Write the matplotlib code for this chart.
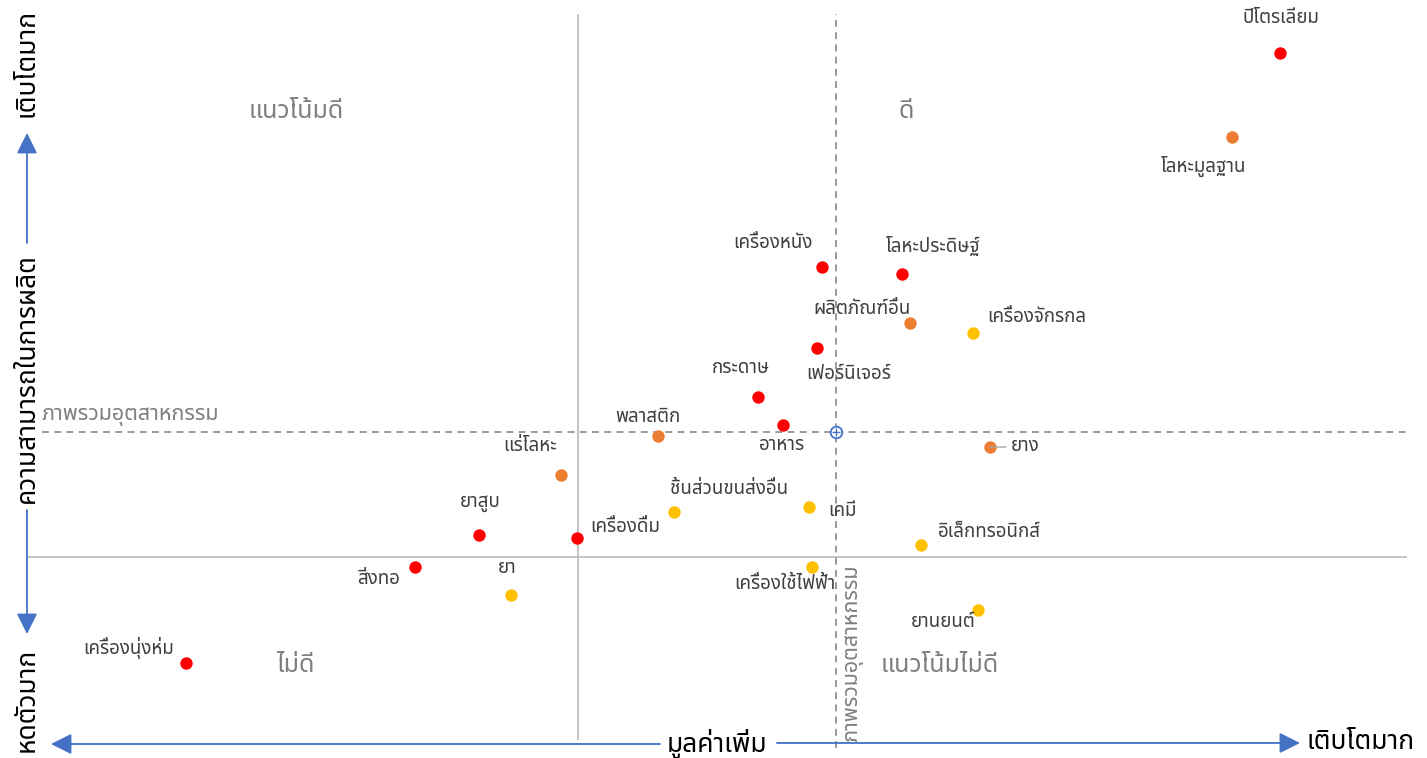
import matplotlib
matplotlib.use("Agg")
import matplotlib.pyplot as plt
from matplotlib import font_manager
from matplotlib.ft2font import FT2Font

# --- pick an installed font that covers Thai script -------------------------
def thai_font():
    preferred = ["Tahoma", "Leelawadee UI", "Noto Sans Thai", "Noto Sans Thai UI",
                 "Loma", "Garuda", "Sarabun", "Kinnari", "Norasi"]
    found = {}
    for f in font_manager.fontManager.ttflist:
        try:
            cmap = FT2Font(f.fname).get_charmap()
        except Exception:
            continue
        if 0x0E01 in cmap and 0x0E40 in cmap:
            found.setdefault(f.name, f.fname)
    for name in preferred:
        if name in found:
            return name
    return sorted(found)[0] if found else "DejaVu Sans"

THAI = thai_font()
plt.rcParams["font.family"] = [THAI, "DejaVu Sans"]

# --- data: growth of value added (x) vs. production capacity (y), % ---------
red_names = ["ปิโตรเลียม", "เครื่องหนัง", "โลหะประดิษฐ์", "เฟอร์นิเจอร์", "กระดาษ",
             "อาหาร", "เครื่องดื่ม", "ยาสูบ", "สิ่งทอ", "เครื่องนุ่งห่ม"]
red_x = [17.55, 6.10, 8.10, 5.98, 4.50, 5.12, -0.02, -2.48, -4.08, -9.80]
red_y = [12.60, 7.25, 7.08, 5.22, 4.00, 3.30, 0.48, 0.55, -0.25, -2.65]

orange_names = ["โลหะมูลฐาน", "ผลิตภัณฑ์อื่น", "พลาสติก", "แร่โลหะ", "ยาง"]
orange_x = [16.35, 8.30, 2.00, -0.42, 10.30]
orange_y = [10.50, 5.85, 3.02, 2.05, 2.75]

yellow_names = ["เครื่องจักรกล", "ชิ้นส่วนขนส่งอื่น", "เคมี", "อิเล็กทรอนิกส์",
                "เครื่องใช้ไฟฟ้า", "ยา", "ยานยนต์"]
yellow_x = [9.88, 2.40, 5.78, 8.58, 5.85, -1.68, 10.00]
yellow_y = [5.60, 1.12, 1.25, 0.30, -0.25, -0.95, -1.32]

overall_label = "ภาพรวมอุตสาหกรรม"
overall_x = 6.45
overall_y = 3.12

quadrant_labels = ["แนวโน้มดี", "ดี", "ไม่ดี", "แนวโน้มไม่ดี"]
x_title = "มูลค่าเพิ่ม"
y_title = "ความสามารถในการผลิต"
high_text = "เติบโตมาก"
low_text = "หดตัวมาก"

# label placement (pixel offsets of label centre from its point)
label_offsets = {
    "ปิโตรเลียม": (1, 35), "โลหะมูลฐาน": (-28, -29), "เครื่องหนัง": (-49, 24),
    "โลหะประดิษฐ์": (31, 28), "ผลิตภัณฑ์อื่น": (-48, 14), "เครื่องจักรกล": (64, 16),
    "เฟอร์นิเจอร์": (31, -26), "กระดาษ": (-17, 29), "อาหาร": (-1, -20),
    "พลาสติก": (-10, 19), "ยาง": (35, 1), "แร่โลหะ": (-31, 29), "ยาสูบ": (1, 32),
    "ชิ้นส่วนขนส่งอื่น": (55, 23), "เคมี": (33, -4), "เครื่องดื่ม": (48, 11),
    "อิเล็กทรอนิกส์": (68, 13), "สิ่งทอ": (-36, -12), "ยา": (-4, 27),
    "เครื่องใช้ไฟฟ้า": (-27, -17), "ยานยนต์": (-35, -12), "เครื่องนุ่งห่ม": (-57, 15),
}

RED, ORANGE, YELLOW = "#FF0000", "#ED7D31", "#FFC000"
BLUE = "#4472C4"
LABEL_C = "#404040"
GRAY_T = "#7F7F7F"

LABEL_FS = 13.5
QUAD_FS = 18
AXIS_FS = 19
AVG_FS = 15.5

W, H = 1427, 758
fig = plt.figure(figsize=(W / 100, H / 100), dpi=100)
ax = fig.add_axes([28 / W, 18 / H, (1407 - 28) / W, (740 - 14) / H])
ax.set_xlim(-13.75, 20.725)
ax.set_ylim(-4.575, 13.575)
ax.axis("off")

# zero lines and industry-average lines
ax.axhline(0, color="#BFBFBF", lw=1.3, zorder=1)
ax.axvline(0, color="#BFBFBF", lw=1.3, zorder=1)
ax.axhline(overall_y, xmin=(42 - 28) / (1407 - 28), color="#7F7F7F", lw=1.1,
           ls=(0, (4.5, 3.5)), zorder=1)
ax.plot([overall_x, overall_x], [-4.575 - 0.2, 13.575], color="#7F7F7F", lw=1.1,
        ls=(0, (4.5, 3.5)), zorder=1, clip_on=False)

ax.scatter(red_x, red_y, s=80, color=RED, zorder=3, linewidths=0)
ax.scatter(orange_x, orange_y, s=80, color=ORANGE, zorder=3, linewidths=0)
ax.scatter(yellow_x, yellow_y, s=80, color=YELLOW, zorder=3, linewidths=0)
ax.scatter([overall_x], [overall_y], s=70, facecolor="white", edgecolor=BLUE,
           linewidths=1.3, zorder=3)
ax.plot([overall_x], [overall_y], marker="+", ms=6, mew=1.0, color=BLUE, zorder=4)

for names, xs, ys in [(red_names, red_x, red_y), (orange_names, orange_x, orange_y),
                      (yellow_names, yellow_x, yellow_y)]:
    for n, x, y in zip(names, xs, ys):
        dx, dy = label_offsets[n]
        ax.annotate(n, (x, y), xytext=(dx, dy), textcoords="offset pixels",
                    ha="center", va="center", fontsize=LABEL_FS, color=LABEL_C,
                    zorder=5)

# leader line for the rubber label
i = orange_names.index("ยาง")
ax.annotate("", (orange_x[i], orange_y[i]), xytext=(16, 0), textcoords="offset pixels",
            arrowprops=dict(arrowstyle="-", color="#A6A6A6", lw=1.0,
                            shrinkA=0, shrinkB=0))

# industry-average captions
fig.text(42 / W, 1 - 416 / H, overall_label, ha="left", va="center",
         fontsize=AVG_FS, color=GRAY_T)
fig.text(853 / W, 1 - 653 / H, overall_label, rotation=90, ha="center", va="center",
         fontsize=AVG_FS, color=GRAY_T)

# quadrant captions
quad_pos = [(296, 111), (906, 111), (296, 665), (940, 665)]
for t, (px, py) in zip(quadrant_labels, quad_pos):
    fig.text(px / W, 1 - py / H, t, ha="center", va="center", fontsize=QUAD_FS,
             color=GRAY_T)

# axis arrows and captions
arrow_kw = dict(arrowstyle="-|>,head_length=0.9,head_width=0.45", color=BLUE, lw=1.3,
                shrinkA=0, shrinkB=0)

def fig_arrow(x0, y0, x1, y1):
    fig.add_artist(matplotlib.patches.FancyArrowPatch(
        (x0 / W, 1 - y0 / H), (x1 / W, 1 - y1 / H), transform=fig.transFigure,
        mutation_scale=14, **arrow_kw))

fig_arrow(27, 243, 27, 133)
fig_arrow(27, 510, 27, 634)
fig_arrow(660, 744, 51, 744)
fig_arrow(777, 743, 1300, 743)

fig.text(27 / W, 1 - 63 / H, high_text, rotation=90, ha="center", va="center",
         fontsize=AXIS_FS, color="black")
fig.text(27 / W, 1 - 378 / H, y_title, rotation=90, ha="center", va="center",
         fontsize=AXIS_FS, color="black")
fig.text(27 / W, 1 - 700 / H, low_text, rotation=90, ha="center", va="center",
         fontsize=AXIS_FS, color="black")
fig.text(717 / W, 1 - 744 / H, x_title, ha="center", va="center", fontsize=AXIS_FS,
         color="black")
fig.text(1361 / W, 1 - 742 / H, high_text, ha="center", va="center",
         fontsize=AXIS_FS, color="black")

fig.savefig("out.png", dpi=100, facecolor="white")
